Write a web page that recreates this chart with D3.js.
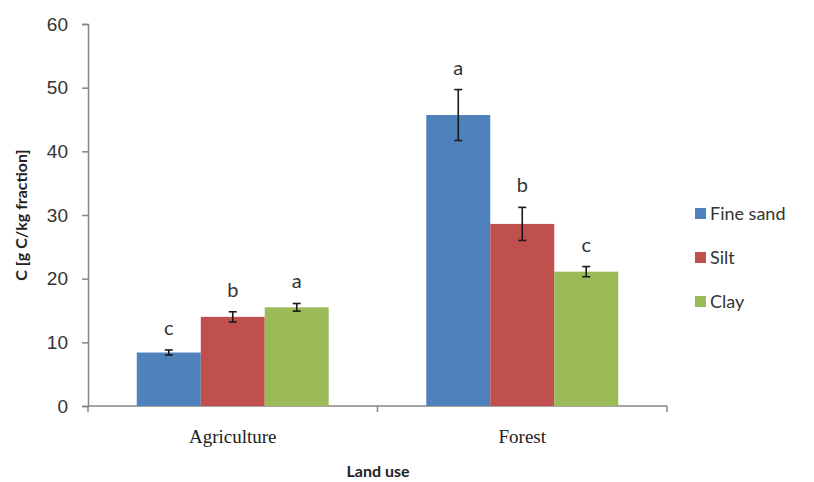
<!DOCTYPE html>
<html lang="en">
<head>
    <meta charset="utf-8">
    <title>Carbon by land use</title>
    <script src="https://cdn.jsdelivr.net/npm/d3@7"></script>
</head>
<style>
    body {
        margin: 0;
        padding: 0;
        background-color: #ffffff;
        font-family: Lato, "Open Sans", sans-serif;
    }
    .tick-label {
        font-size: 19px;
        fill: #333;
    }
    .cat-label {
        font-family: "Liberation Serif", "DejaVu Serif", serif;
        font-size: 19px;
        fill: #222;
    }
    .axis-title {
        font-size: 16px;
        font-weight: bold;
        fill: #222;
    }
    .legend {
        font-size: 18px;
        fill: #333;
    }
    .sig {
        font-size: 20px;
        fill: #333;
    }
</style>
<body>
    <svg width="814" height="482" id="chart"></svg>

    <script>
        // data
        var landUses = ["Agriculture", "Forest"];
        var fractions = ["Fine sand", "Silt", "Clay"];
        var means = {
            "Agriculture": [8.4, 14.0, 15.5],
            "Forest": [45.7, 28.6, 21.1]
        };
        var errors = {
            "Agriculture": [0.4, 0.8, 0.6],
            "Forest": [4.0, 2.6, 0.8]
        };
        var letters = {
            "Agriculture": ["c", "b", "a"],
            "Forest": ["a", "b", "c"]
        };
        var yTicks = [0, 10, 20, 30, 40, 50, 60];
        var colorList = ["#4F81BD", "#C0504D", "#9BBB59"];

        var svg = d3.select("#chart");
        var axisColor = "#868686";

        var x0 = d3.scaleBand()
            .domain(landUses)
            .range([88, 667])
            .paddingInner(0.337)
            .paddingOuter(0.1685);

        var x1 = d3.scaleBand()
            .domain(fractions)
            .range([0, x0.bandwidth()]);

        var y = d3.scaleLinear()
            .domain([0, 60])
            .range([406, 24]);

        var color = d3.scaleOrdinal().domain(fractions).range(colorList);

        // y axis
        var yAxis = svg.append("g")
            .attr("transform", "translate(88,0)")
            .call(d3.axisLeft(y).tickValues(yTicks).tickSize(6).tickPadding(14));
        yAxis.select(".domain").attr("stroke", axisColor).attr("stroke-width", 1.5);
        yAxis.selectAll(".tick line").attr("stroke", axisColor).attr("stroke-width", 1.5);
        yAxis.selectAll(".tick text").attr("class", "tick-label").attr("font-size", null).attr("font-family", null);

        // x axis line and ticks between categories
        var xAxis = svg.append("g").attr("transform", "translate(0,406)");
        xAxis.append("line")
            .attr("x1", 88).attr("x2", 667)
            .attr("stroke", axisColor).attr("stroke-width", 1.5);
        var step = x0.step();
        var bounds = [88].concat(landUses.map(function(d) { return x0(d) + x0.bandwidth() / 2 + step / 2; }));
        xAxis.selectAll("line.xt")
            .data(bounds)
            .enter()
            .append("line")
            .attr("class", "xt")
            .attr("x1", function(d) { return d; })
            .attr("x2", function(d) { return d; })
            .attr("y1", 0).attr("y2", 6)
            .attr("stroke", axisColor).attr("stroke-width", 1.5);
        xAxis.selectAll("text")
            .data(landUses)
            .enter()
            .append("text")
            .attr("class", "cat-label")
            .attr("x", function(d) { return x0(d) + x0.bandwidth() / 2; })
            .attr("y", 37)
            .attr("text-anchor", "middle")
            .text(function(d) { return d; });

        // bars
        var rows = [];
        landUses.forEach(function(lu) {
            fractions.forEach(function(f, i) {
                rows.push({ lu: lu, f: f, v: means[lu][i], e: errors[lu][i], s: letters[lu][i] });
            });
        });

        svg.append("g").selectAll("rect")
            .data(rows)
            .enter()
            .append("rect")
            .attr("x", function(d) { return x0(d.lu) + x1(d.f); })
            .attr("width", x1.bandwidth())
            .attr("y", function(d) { return y(d.v); })
            .attr("height", function(d) { return y(0) - y(d.v); })
            .attr("fill", function(d) { return color(d.f); });

        // error bars
        var eb = svg.append("g").attr("stroke", "#1a1a1a").attr("stroke-width", 1.6);
        rows.forEach(function(d) {
            var cx = x0(d.lu) + x1(d.f) + x1.bandwidth() / 2;
            eb.append("line").attr("x1", cx).attr("x2", cx)
                .attr("y1", y(d.v + d.e)).attr("y2", y(d.v - d.e));
            eb.append("line").attr("x1", cx - 4).attr("x2", cx + 4)
                .attr("y1", y(d.v + d.e)).attr("y2", y(d.v + d.e));
            eb.append("line").attr("x1", cx - 4).attr("x2", cx + 4)
                .attr("y1", y(d.v - d.e)).attr("y2", y(d.v - d.e));
        });

        // significance letters
        svg.append("g").selectAll("text")
            .data(rows)
            .enter()
            .append("text")
            .attr("class", "sig")
            .attr("x", function(d) { return x0(d.lu) + x1(d.f) + x1.bandwidth() / 2; })
            .attr("y", function(d) { return y(d.v + d.e) - 15; })
            .attr("text-anchor", "middle")
            .text(function(d) { return d.s; });

        // axis titles
        svg.append("text")
            .attr("class", "axis-title")
            .attr("x", 378).attr("y", 477)
            .attr("text-anchor", "middle")
            .text("Land use");
        svg.append("text")
            .attr("class", "axis-title")
            .attr("transform", "translate(27,215) rotate(-90)")
            .attr("text-anchor", "middle")
            .text("C [g C/kg fraction]");

        // legend
        var legend = svg.append("g")
            .attr("transform", "translate(695,208)")
            .selectAll("g")
            .data(fractions)
            .enter()
            .append("g")
            .attr("transform", function(d, i) { return "translate(0," + (i * 44) + ")"; });
        legend.append("rect")
            .attr("width", 11)
            .attr("height", 11)
            .attr("fill", function(d) { return color(d); });
        legend.append("text")
            .attr("class", "legend")
            .attr("x", 15)
            .attr("y", 6)
            .attr("dy", ".35em")
            .text(function(d) { return d; });
    </script>
</body>
</html>
